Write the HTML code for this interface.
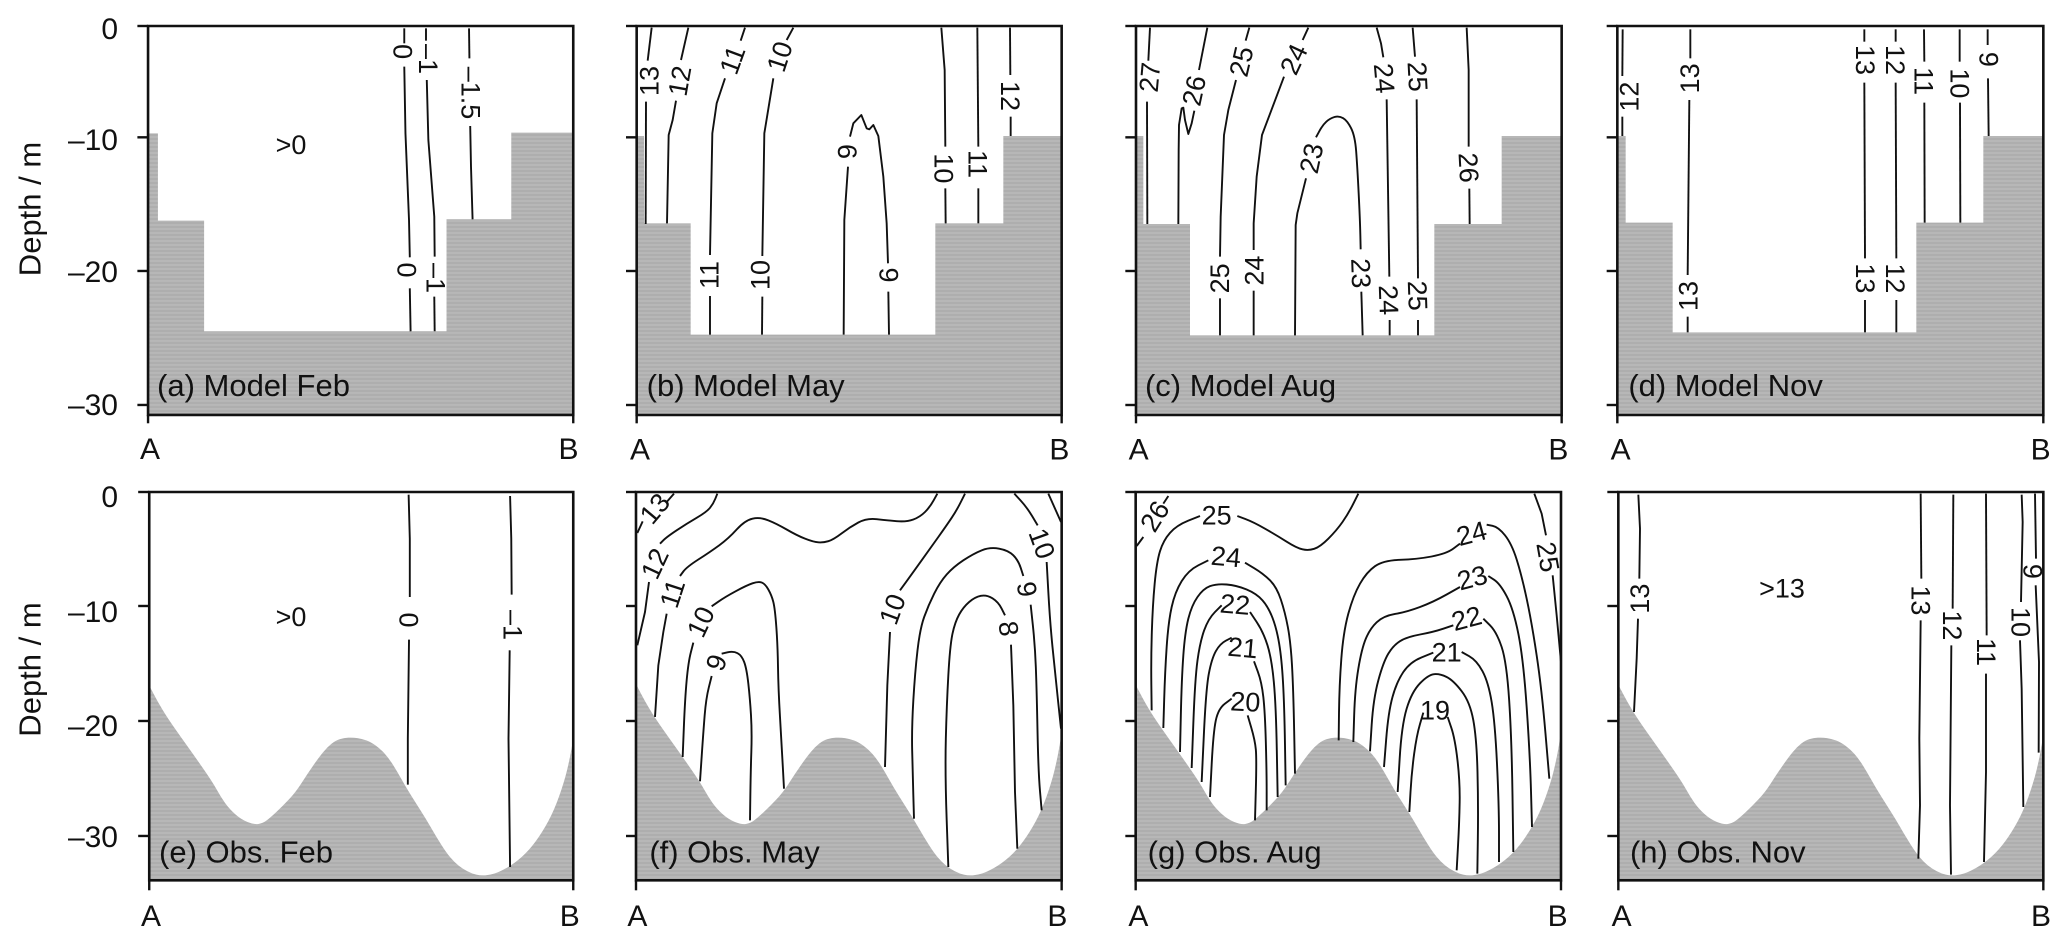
<!DOCTYPE html>
<html><head><meta charset="utf-8"><style>
html,body{margin:0;padding:0;background:#fff}
svg{display:block}
text{font-family:"Liberation Sans",sans-serif;fill:#111}
.g{fill:url(#s);stroke:none}
polyline,.q{fill:none;stroke:#111;stroke-width:1.9;stroke-linejoin:round;vector-effect:non-scaling-stroke}
.f{fill:none;stroke:#111;stroke-width:2.6;vector-effect:non-scaling-stroke}
line{stroke:#111;stroke-width:2.4;vector-effect:non-scaling-stroke}
.l{font-size:81px;text-anchor:middle;dominant-baseline:central}
.p{font-size:93px}
.ab{font-size:90px;text-anchor:middle}
.o{font-size:31px}
.r{font-size:30px;text-anchor:end}
.c{font-size:27px;text-anchor:middle;dominant-baseline:central}
.h{font-size:30px;text-anchor:middle}
</style></head><body>
<svg xmlns="http://www.w3.org/2000/svg" width="2067" height="944" viewBox="0 0 2067 944">
<defs>
<pattern id="s" patternUnits="userSpaceOnUse" width="12" height="12"><rect width="12" height="12" fill="#b7b7b7"/><rect y="6" width="12" height="6" fill="#aeaeae"/></pattern>
<path id="bath" class="g" d="M110,640 L122.5,664 Q135,688 149,711.5 T184,765 T226.5,825 T274,892.5 T312.5,952.5 T337.5,992.5 T367.5,1026 T405,1050 T437.5,1056 T460,1047 T490,1021.5 T530,981.5 T567.5,932.5 T602.5,880 T632.5,840 T657.5,815 T682.5,801.5 T707.5,797 T735,798.5 T762.5,805.5 T790,821 T817.5,846 T842.5,880 T867.5,922.5 T895,969 T925,1016.5 T955,1066 T985,1116 T1012.5,1155 T1037.5,1180 T1064,1197.5 T1091.5,1208 T1118.5,1210 T1146,1204.5 T1182.5,1187.5 T1227.5,1155 T1270,1107.5 T1307.5,1047.5 T1340,972.5 T1363.5,895 T1377.5,827.5 L1383,795 L1383,1222 L110,1222 Z"/>
</defs>

<!-- Panel a -->
<g transform="scale(0.3948,0.3333)">
<polygon class="g" points="375,400 400,400 400,662 517,662 517,994 1131,994 1131,658 1295,658 1295,398 1450,398 1450,1243 375,1243"/>
<polyline points="1024,85 1024,130"/>
<polyline points="1024,200 1027,400 1036,660 1038,772"/>
<polyline points="1038,865 1040,994"/>
<polyline points="1079,85 1079,122"/>
<polyline points="1081,240 1085,420 1100,650 1101,770"/>
<polyline points="1100,890 1101,994"/>
<polyline points="1188,85 1189,175"/>
<polyline points="1191,378 1193,500 1197,658"/>
<rect class="f" x="375" y="78" width="1077" height="1167"/>
<line x1="348" y1="78" x2="375" y2="78"/><line x1="348" y1="412" x2="375" y2="412"/><line x1="348" y1="813" x2="375" y2="813"/><line x1="348" y1="1215" x2="375" y2="1215"/>
<line x1="375" y1="1245" x2="375" y2="1270"/><line x1="1452" y1="1245" x2="1452" y2="1270"/>
</g>
<text class="c" transform="translate(402.7,51.7) rotate(90)">0</text>
<text class="c" transform="translate(428,59) rotate(90)">–1</text>
<text class="c" transform="translate(470.6,93) rotate(90)">–1.5</text>
<text class="c" transform="translate(406.6,270) rotate(90)">0</text>
<text class="c" transform="translate(435.5,278) rotate(90)">–1</text>
<text class="c" x="291" y="145">&gt;0</text>
<text class="o" x="157" y="396">(a) Model Feb</text>
<text class="h" x="150" y="459">A</text><text class="h" x="568.5" y="459">B</text>
<text class="r" x="118" y="39">0</text><text class="r" x="118" y="150">–10</text><text class="r" x="118" y="282">–20</text><text class="r" x="118" y="415">–30</text>
<text class="o" transform="translate(40.7,209) rotate(-90)" text-anchor="middle">Depth / m</text>

<!-- Panel b -->
<g transform="translate(600,0) scale(0.33333)">
<polygon class="g" points="112,408 132,408 132,670 272,670 272,1004 1006,1004 1006,670 1210,670 1210,408 1383,408 1383,1243 112,1243"/>
<polyline points="155,83 143,182"/><polyline points="138,305 137,672"/>
<polyline points="265,83 243,180"/><polyline points="228,302 218,360 206,405 201,670"/>
<polyline points="435,83 422,122"/><polyline points="375,235 350,310 337,400 330,765"/><polyline points="330,888 330,1004"/>
<polyline points="580,83 560,120"/><polyline points="520,235 493,400 487,768"/><polyline points="487,890 486,1004"/>
<polyline points="731,1004 733,660 744,500"/><polyline points="750,410 760,370 784,345 800,385 808,388 820,375 835,408 850,530 860,670 864,790"/><polyline points="865,875 867,1004"/>
<polyline points="1024,83 1034,210 1036,440"/><polyline points="1036,565 1037,670"/>
<polyline points="1132,83 1135,440"/><polyline points="1135,565 1135,670"/>
<polyline points="1230,83 1231,225"/><polyline points="1232,350 1232,408"/>
<text class="l" transform="translate(148,243) rotate(-90)">13</text>
<text class="l" transform="translate(240,243) rotate(-80)">12</text>
<text class="l" transform="translate(398,180) rotate(-70)">11</text>
<text class="l" transform="translate(540,170) rotate(-72)">10</text>
<text class="l" transform="translate(742,455) rotate(-90)">9</text>
<text class="l" transform="translate(1030,505) rotate(90)">10</text>
<text class="l" transform="translate(1132,492) rotate(90)">11</text>
<text class="l" transform="translate(1230,288) rotate(90)">12</text>
<text class="l" transform="translate(328,825) rotate(-90)">11</text>
<text class="l" transform="translate(482,825) rotate(-90)">10</text>
<text class="l" transform="translate(865,825) rotate(90)">9</text>
<rect class="f" x="110" y="78" width="1275" height="1167"/>
<line x1="78" y1="78" x2="110" y2="78"/><line x1="78" y1="412" x2="110" y2="412"/><line x1="78" y1="813" x2="110" y2="813"/><line x1="78" y1="1215" x2="110" y2="1215"/>
<line x1="110" y1="1245" x2="110" y2="1270"/><line x1="1385" y1="1245" x2="1385" y2="1270"/>
<text class="p" x="140" y="1188">(b) Model May</text>
<text class="ab" x="120" y="1378">A</text><text class="ab" x="1378" y="1378">B</text>
</g>

<!-- Panel c -->
<g transform="translate(1100,0) scale(0.33333)">
<polygon class="g" points="108,408 130,408 130,672 270,672 270,1006 1003,1006 1003,672 1205,672 1205,408 1383,408 1383,1243 108,1243"/>
<polyline points="150,83 145,182"/><polyline points="141,305 142,672"/>
<polyline points="322,83 297,210"/>
<polyline points="283,332 275,370 265,402 255,360 250,323 245,325 237,375 236,450 235,672"/>
<polyline points="448,83 437,122"/><polyline points="408,240 385,330 372,405 362,650 360,770"/><polyline points="360,895 360,1006"/>
<polyline points="625,83 608,120"/><polyline points="552,230 486,405 470,530 461,670 461,750"/><polyline points="461,872 461,1006"/>
<path class="q" d="M648,412 L658,393.5 Q668,375 679,365 T703.5,351 T729.5,354.5 T753.5,385 T768.5,454 T776,580 T781,704 L782,748"/><polyline points="784,875 788,1006"/>
<polyline points="618,535 592,640 587,675 585,1006"/>
<polyline points="830,83 843,130 850,172"/><polyline points="860,298 868,830"/><polyline points="869,960 869,1006"/>
<polyline points="938,83 945,170"/><polyline points="950,298 954,835"/><polyline points="954,960 954,1006"/>
<polyline points="1100,83 1106,210 1106,440"/><polyline points="1108,566 1109,672"/>
<text class="l" transform="translate(150,232) rotate(-85)">27</text>
<text class="l" transform="translate(283,272) rotate(-78)">26</text>
<text class="l" transform="translate(425,185) rotate(-77)">25</text>
<text class="l" transform="translate(582,178) rotate(-65)">24</text>
<text class="l" transform="translate(852,235) rotate(85)">24</text>
<text class="l" transform="translate(952,230) rotate(87)">25</text>
<text class="l" transform="translate(635,475) rotate(-78)">23</text>
<text class="l" transform="translate(1105,503) rotate(87)">26</text>
<text class="l" transform="translate(360,835) rotate(-90)">25</text>
<text class="l" transform="translate(463,812) rotate(-90)">24</text>
<text class="l" transform="translate(782,820) rotate(88)">23</text>
<text class="l" transform="translate(865,900) rotate(88)">24</text>
<text class="l" transform="translate(952,887) rotate(88)">25</text>
<rect class="f" x="108" y="78" width="1277" height="1167"/>
<line x1="76" y1="78" x2="108" y2="78"/><line x1="76" y1="412" x2="108" y2="412"/><line x1="76" y1="813" x2="108" y2="813"/><line x1="76" y1="1215" x2="108" y2="1215"/>
<line x1="108" y1="1245" x2="108" y2="1270"/><line x1="1385" y1="1245" x2="1385" y2="1270"/>
<text class="p" x="135" y="1188">(c) Model Aug</text>
<text class="ab" x="116" y="1378">A</text><text class="ab" x="1375" y="1378">B</text>
</g>

<!-- Panel d -->
<g transform="translate(1580,0) scale(0.33333)">
<polygon class="g" points="115,408 137,408 137,668 278,668 278,997 1009,997 1009,668 1210,668 1210,408 1388,408 1388,1243 115,1243"/>
<polyline points="128,88 127,228"/><polyline points="127,350 127,408"/>
<polyline points="331,88 331,175"/><polyline points="328,300 323,825"/><polyline points="323,950 323,997"/>
<polyline points="853,88 853,125"/><polyline points="853,248 855,775"/><polyline points="855,900 855,997"/>
<polyline points="947,88 947,125"/><polyline points="947,248 949,775"/><polyline points="949,900 949,997"/>
<polyline points="1032,88 1033,185"/><polyline points="1033,308 1034,668"/>
<polyline points="1139,88 1139,185"/><polyline points="1140,308 1141,668"/>
<polyline points="1223,88 1223,135"/><polyline points="1224,235 1226,408"/>
<text class="l" transform="translate(148,290) rotate(-90)">12</text>
<text class="l" transform="translate(330,235) rotate(-90)">13</text>
<text class="l" transform="translate(855,180) rotate(90)">13</text>
<text class="l" transform="translate(945,180) rotate(90)">12</text>
<text class="l" transform="translate(1030,243) rotate(90)">11</text>
<text class="l" transform="translate(1138,250) rotate(90)">10</text>
<text class="l" transform="translate(1225,178) rotate(90)">9</text>
<text class="l" transform="translate(325,888) rotate(-90)">13</text>
<text class="l" transform="translate(855,835) rotate(90)">13</text>
<text class="l" transform="translate(945,835) rotate(90)">12</text>
<rect class="f" x="112" y="78" width="1278" height="1167"/>
<line x1="80" y1="78" x2="112" y2="78"/><line x1="80" y1="412" x2="112" y2="412"/><line x1="80" y1="813" x2="112" y2="813"/><line x1="80" y1="1215" x2="112" y2="1215"/>
<line x1="112" y1="1245" x2="112" y2="1270"/><line x1="1390" y1="1245" x2="1390" y2="1270"/>
<text class="p" x="145" y="1188">(d) Model Nov</text>
<text class="ab" x="122" y="1378">A</text><text class="ab" x="1382" y="1378">B</text>
</g>

<!-- Panel e -->
<g transform="translate(112.5,472) scale(0.33333)"><use href="#bath"/></g>
<g transform="translate(0,472) scale(0.3948,0.3333)">
<polyline points="1035,68 1038,200 1038,375"/><polyline points="1036,503 1033,800 1033,938"/>
<polyline points="1292,72 1295,200 1296,368"/><polyline points="1291,535 1288,800 1292,1185"/>
<rect class="f" x="378" y="60" width="1074" height="1165"/>
<line x1="350" y1="60" x2="378" y2="60"/><line x1="350" y1="402" x2="378" y2="402"/><line x1="350" y1="747" x2="378" y2="747"/><line x1="350" y1="1092" x2="378" y2="1092"/>
<line x1="378" y1="1225" x2="378" y2="1255"/><line x1="1452" y1="1225" x2="1452" y2="1255"/>
</g>
<text class="c" transform="translate(408.6,620) rotate(90)">0</text>
<text class="c" transform="translate(512.4,625) rotate(90)">–1</text>
<text class="c" x="291" y="617">&gt;0</text>
<text class="o" x="159" y="862.7">(e) Obs. Feb</text>
<text class="h" x="151" y="926">A</text><text class="h" x="569.7" y="926">B</text>
<text class="r" x="118" y="507">0</text><text class="r" x="118" y="622">–10</text><text class="r" x="118" y="736">–20</text><text class="r" x="118" y="847">–30</text>
<text class="o" transform="translate(40.7,669.5) rotate(-90)" text-anchor="middle">Depth / m</text>

<!-- Panel f -->
<g transform="translate(600,472) scale(0.33333)">
<use href="#bath"/>
<polyline points="112,183 128,148"/><polyline points="200,90 222,65"/>
<path class="q" d="M180,215 L190,205 Q200,195 230,175 T290,137.5 T330,107.5 T346,80 L352,65"/>
<polyline points="147,330 135,420 112,520"/>
<path class="q" d="M240,312 L250,298.5 Q260,285 295,262.5 T357.5,220 T410,172.5 T457.5,140 T505,145 T560,172.5 T615,200 T655,211 T685,207.5 T725,184 T775,151.5 T830,141.5 T890,147.5 T940,142.5 T975,120 T1001,85 L1012,65"/>
<polyline points="200,425 190,480 175,580 165,735"/>
<path class="q" d="M335,403 L355,389 Q375,375 407.5,357.5 T457.5,334 T485,331.5 T505,352.5 T520,390 T529,465 T534,585 T540,735 T548.5,885 L552,950"/>
<path class="q" d="M280,512 L272.5,541 Q265,570 260,625 T251.5,767.5 L248,855"/>
<path class="q" d="M365,545 L382.5,541 Q400,537 412.5,543.5 T432.5,570 T445,635 T453,730 T454,840 T451,972.5 L450,1045"/>
<path class="q" d="M335,612 L326.5,646 Q318,680 314,730 T305,854 L300,928"/>
<path class="q" d="M900,355 L920,327.5 Q940,300 965,265 T1015,195 T1055,137.5 T1082.5,90 L1095,65"/>
<polyline points="870,480 862,640 855,885"/>
<path class="q" d="M1270,312 L1262.5,288.5 Q1255,265 1240,250 T1197.5,230 T1145,235 T1090,265 T1040,307.5 T1002.5,365 T972.5,435 T952.5,535 T940,685 T936.5,835 T940,970 L942,1040"/>
<path class="q" d="M1292,398 L1298.5,459 Q1305,520 1307.5,585 T1312.5,775 T1320,957.5 L1325,1015"/>
<path class="q" d="M1215,430 L1205,410 Q1195,390 1177.5,379 T1142.5,371.5 T1107.5,390 T1077.5,427.5 T1057.5,485 T1045,610 T1037.5,800 T1040,1042.5 L1045,1185"/>
<polyline points="1233,518 1240,700 1245,960 1252,1130"/>
<path class="q" d="M1243,65 L1261.5,85 Q1280,105 1296.5,132.5 L1313,160"/>
<path class="q" d="M1340,270 L1345,360 Q1350,450 1357.5,525 T1374,685 L1383,770"/>
<polyline points="1345,65 1383,150"/>
<text class="l" transform="translate(165,110) rotate(-50)">13</text>
<text class="l" transform="translate(165,275) rotate(-65)">12</text>
<text class="l" transform="translate(218,365) rotate(-72)">11</text>
<text class="l" transform="translate(303,450) rotate(-65)">10</text>
<text class="l" transform="translate(350,572) rotate(-70)">9</text>
<text class="l" transform="translate(878,412) rotate(-70)">10</text>
<text class="l" transform="translate(1280,352) rotate(80)">9</text>
<text class="l" transform="translate(1225,470) rotate(82)">8</text>
<text class="l" transform="translate(1325,215) rotate(70)">10</text>
<rect class="f" x="108" y="60" width="1277" height="1165"/>
<line x1="78" y1="60" x2="108" y2="60"/><line x1="78" y1="402" x2="108" y2="402"/><line x1="78" y1="747" x2="108" y2="747"/><line x1="78" y1="1092" x2="108" y2="1092"/>
<line x1="108" y1="1225" x2="108" y2="1255"/><line x1="1385" y1="1225" x2="1385" y2="1255"/>
<text class="p" x="148" y="1172">(f) Obs. May</text>
<text class="ab" x="112" y="1362">A</text><text class="ab" x="1372" y="1362">B</text>
</g>

<!-- Panel g -->
<g transform="translate(1099.3,472) scale(0.33333)"><use href="#bath"/></g>
<g transform="translate(1100,472) scale(0.33333)">
<polyline points="110,222 130,195"/><polyline points="190,95 205,72"/>
<path class="q" d="M155,715 L154,637.5 Q153,560 155.5,480 T164,335 T180,237.5 T210,182.5 T265,146 L300,132"/>
<path class="q" d="M412,132 L436,141 Q460,150 495,170 T560,209 T607.5,232 T642.5,230.5 T685,200 T727.5,150 T760,95 L775,65"/>
<path class="q" d="M190,768 L192.5,684 Q195,600 200,525 T215,405 T245,327.5 T295,280 L325,265"/>
<path class="q" d="M435,272 L462.5,288.5 Q490,305 510,325 T542.5,382.5 T563.5,465 T576,580 T582.5,777.5 L585,905"/>
<path class="q" d="M240,840 L242.5,730 Q245,620 250,550 T265,440 T292.5,375 T330,342.5 T380,337.5 T440,352.5 T487.5,385 T517.5,437.5 T537.5,515 T549,630 T555,820 L557,940"/>
<path class="q" d="M275,888 L280,754 Q285,620 292.5,565 T312.5,475 T345,420 L365,400"/>
<path class="q" d="M450,420 L470,450 Q490,480 502.5,520 T521.5,630 T530.5,837.5 L533,975"/>
<path class="q" d="M305,930 L311.5,790 Q318,650 326.5,605 T347.5,537.5 T377.5,506 L395,497"/>
<path class="q" d="M462,568 L473.5,599 Q485,630 490,675 T497.5,810 T500,957.5 L500,1015"/>
<path class="q" d="M330,975 L335,877.5 Q340,780 347.5,745 T375,695 L395,680"/>
<path class="q" d="M443,730 L454,767.5 Q465,805 467.5,832.5 T467.5,952.5 L465,1045"/>
<path class="q" d="M716,805 L717,722.5 Q718,640 724,560 T745,425 T780,335 T825,282.5 T900,263.5 T995,253.5 T1060,230 L1080,215"/>
<path class="q" d="M1160,158 L1177.5,161.5 Q1195,165 1215,190 T1250,262.5 T1280,380 T1310,550 T1336.5,785 L1348,920"/>
<path class="q" d="M760,810 L762.5,730 Q765,650 775,590 T797.5,500 T830,451 T885,426 T960,405 T1040,367.5 L1080,345"/>
<path class="q" d="M1165,312 L1182.5,323.5 Q1200,335 1220,372.5 T1255,485 T1280,705 T1293,957.5 L1296,1065"/>
<path class="q" d="M810,838 L815,759 Q820,680 835,625 T865,545 T900,507.5 T960,487.5 T1030,470 L1060,460"/>
<path class="q" d="M1150,440 L1170,460 Q1190,480 1205,525 T1227.5,685 T1237.5,970 L1240,1140"/>
<path class="q" d="M852,885 L858.5,802.5 Q865,720 877.5,675 T910,600 T965,556 L1000,542"/>
<path class="q" d="M1085,540 L1107.5,552.5 Q1130,565 1147.5,597.5 T1175,690 T1191,875 T1197,1085 L1197,1170"/>
<path class="q" d="M893,960 L899,860 Q905,760 920,710 T960,634 T1002.5,606.5 T1040,615 T1085,657.5 T1120,745 T1132.5,900 T1133.5,1102.5 L1132,1205"/>
<path class="q" d="M970,722 L960,756 Q950,790 942.5,845 T931.5,960 L928,1020"/>
<path class="q" d="M1043,735 L1054,767.5 Q1065,800 1072.5,865 T1079,990 T1074,1122.5 L1070,1195"/>
<polyline points="1303,65 1325,125 1338,190"/><polyline points="1358,310 1370,430 1383,570"/>
<text class="l" transform="translate(165,133) rotate(-58)">26</text>
<text class="l" x="350" y="130">25</text>
<text class="l" transform="translate(378,255) rotate(5)">24</text>
<text class="l" transform="translate(405,398) rotate(5)">22</text>
<text class="l" transform="translate(428,528) rotate(5)">21</text>
<text class="l" transform="translate(436,690) rotate(3)">20</text>
<text class="l" transform="translate(1115,185) rotate(-15)">24</text>
<text class="l" transform="translate(1117,318) rotate(-15)">23</text>
<text class="l" transform="translate(1100,440) rotate(-15)">22</text>
<text class="l" x="1040" y="542">21</text>
<text class="l" x="1005" y="715">19</text>
<text class="l" transform="translate(1343,255) rotate(80)">25</text>
<rect class="f" x="107" y="60" width="1276" height="1165"/>
<line x1="76" y1="60" x2="107" y2="60"/><line x1="76" y1="402" x2="107" y2="402"/><line x1="76" y1="747" x2="107" y2="747"/><line x1="76" y1="1092" x2="107" y2="1092"/>
<line x1="107" y1="1225" x2="107" y2="1255"/><line x1="1383" y1="1225" x2="1383" y2="1255"/>
<text class="p" x="143" y="1172">(g) Obs. Aug</text>
<text class="ab" x="115" y="1362">A</text><text class="ab" x="1373" y="1362">B</text>
</g>

<!-- Panel h -->
<g transform="translate(1582,472) scale(0.33333)"><use href="#bath"/></g>
<g transform="translate(1580,472) scale(0.33333)">
<polyline points="175,68 180,170 178,320"/><polyline points="174,440 170,560 162,720"/>
<polyline points="1022,65 1024,320"/><polyline points="1022,445 1018,800 1020,1000 1015,1160"/>
<polyline points="1120,68 1118,410"/><polyline points="1114,520 1110,1000 1113,1208"/>
<polyline points="1218,65 1220,490"/><polyline points="1218,605 1218,900 1212,1170"/>
<polyline points="1325,68 1328,150 1323,390"/><polyline points="1320,505 1325,650 1330,1005"/>
<polyline points="1365,65 1368,260"/><polyline points="1367,340 1377,570 1376,842"/>
<text class="l" transform="translate(180,380) rotate(-90)">13</text>
<text class="l" x="606" y="350">&gt;13</text>
<text class="l" transform="translate(1022,385) rotate(90)">13</text>
<text class="l" transform="translate(1116,460) rotate(90)">12</text>
<text class="l" transform="translate(1218,540) rotate(90)">11</text>
<text class="l" transform="translate(1322,450) rotate(90)">10</text>
<text class="l" transform="translate(1358,298) rotate(90)">9</text>
<rect class="f" x="115" y="60" width="1275" height="1165"/>
<line x1="82" y1="60" x2="115" y2="60"/><line x1="82" y1="402" x2="115" y2="402"/><line x1="82" y1="747" x2="115" y2="747"/><line x1="82" y1="1092" x2="115" y2="1092"/>
<line x1="115" y1="1225" x2="115" y2="1255"/><line x1="1390" y1="1225" x2="1390" y2="1255"/>
<text class="p" x="150" y="1172">(h) Obs. Nov</text>
<text class="ab" x="125" y="1362">A</text><text class="ab" x="1383" y="1362">B</text>
</g>
</svg>
</body></html>
